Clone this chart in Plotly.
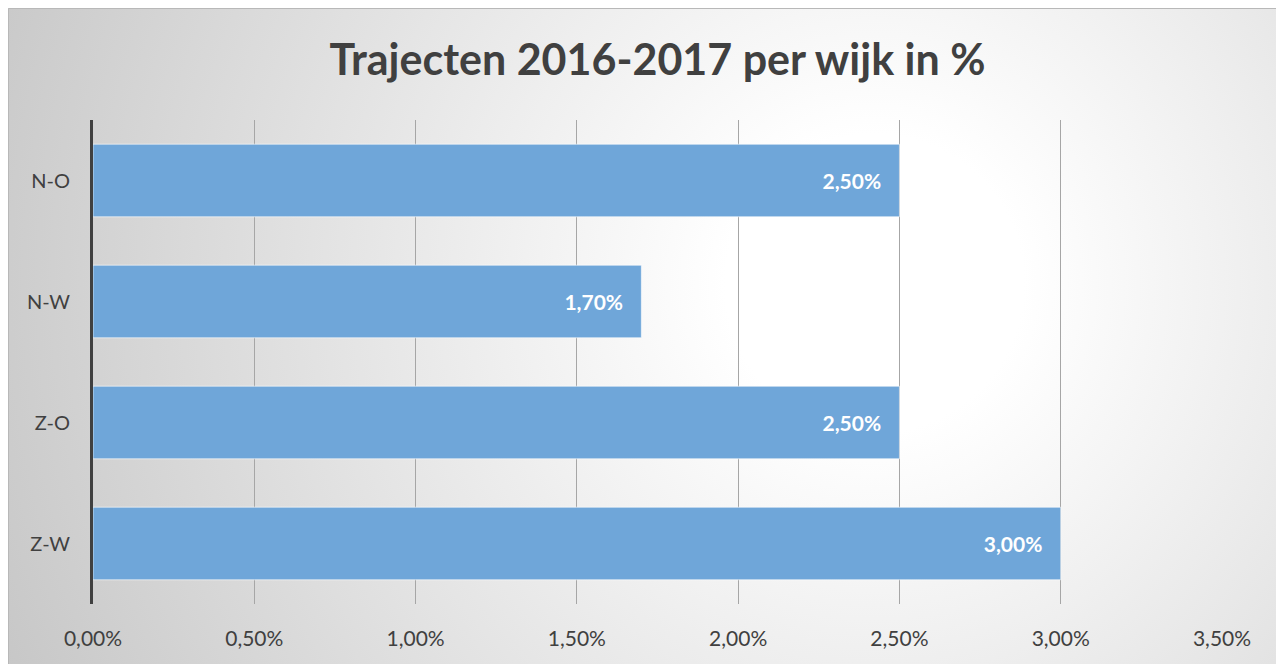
import base64
import plotly.graph_objects as go

categories = ["N-O", "N-W", "Z-O", "Z-W"]
values = [0.025, 0.017, 0.025, 0.030]
x_ticks = [0, 0.005, 0.01, 0.015, 0.02, 0.025, 0.03, 0.035]
title_text = "Trajecten 2016-2017 per wijk in %"

W, H = 1274, 656
L, R, T, B = 85, 1214, 112, 596

svg = f'''<svg xmlns="http://www.w3.org/2000/svg" width="{W}" height="{H}" viewBox="0 0 {W} {H}">
<defs><radialGradient id="g" gradientUnits="userSpaceOnUse" cx="{0.68*W}" cy="{0.42*H}" r="{0.78*W}">
<stop offset="0" stop-color="#ffffff"/><stop offset="0.15" stop-color="#ffffff"/><stop offset="1" stop-color="#c4c4c4"/></radialGradient></defs>
<rect width="100%" height="100%" fill="url(#g)"/></svg>'''
src = "data:image/svg+xml;base64," + base64.b64encode(svg.encode()).decode()

def px(x):
    return (x - L) / (R - L)

def py(y):
    return (B - y) / (B - T)

fig = go.Figure(go.Bar(
    y=categories, x=values, orientation="h", width=0.6,
    marker=dict(color="#6fa6d9", line=dict(color="rgba(255,255,255,0.6)", width=1)),
    texttemplate="%{x:.2%}\u00a0\u00a0\u00a0", textposition="inside", insidetextanchor="end",
    textfont=dict(color="white", size=21, family="Lato", weight="bold"),
    constraintext="none", hoverinfo="skip",
))

fig.update_layout(
    width=W, height=H,
    margin=dict(l=L, r=W - R, t=T, b=H - B),
    paper_bgcolor="white", plot_bgcolor="rgba(0,0,0,0)",
    separators=", ",
    showlegend=False,
    title=dict(text=title_text, x=0.5, xref="paper", xanchor="center", y=1 - 52 / H, yanchor="middle",
               font=dict(family="Lato", size=43, color="#404040", weight="bold")),
    images=[dict(source=src, xref="paper", yref="paper", x=px(0), y=py(0),
                 sizex=px(W) - px(0), sizey=py(0) - py(H), xanchor="left", yanchor="top",
                 sizing="stretch", layer="below")],
    shapes=[dict(type="rect", xref="paper", yref="paper", x0=px(0.5), x1=px(W - 0.5), y0=py(H + 2), y1=py(0.5),
                 line=dict(color="#b8b8b8", width=1), layer="below")],
    xaxis=dict(range=[0, 0.035], tickvals=x_ticks, tickformat=".2%", showgrid=True,
               gridcolor="#a6a6a6", gridwidth=1, zeroline=False, showline=False,
               ticks="", ticklabelstandoff=20,
               tickfont=dict(family="Lato", size=21, color="#404040")),
    yaxis=dict(autorange="reversed", showgrid=False, zeroline=False, showline=True,
               linecolor="#404040", linewidth=3, ticks="", ticklabelstandoff=16,
               tickfont=dict(family="Lato", size=20, color="#404040")),
)

fig.write_html("out.html")
